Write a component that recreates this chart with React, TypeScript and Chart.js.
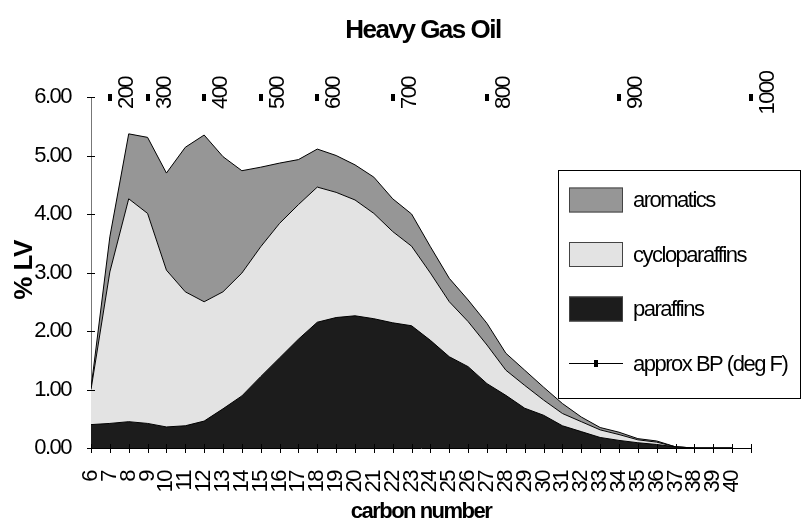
import React, { useEffect, useRef } from 'react';
import { Chart, registerables } from 'chart.js';

Chart.register(...registerables);

// ---- data ----
const carbonNumbers = [6, 7, 8, 9, 10, 11, 12, 13, 14, 15, 16, 17, 18, 19, 20, 21, 22, 23, 24, 25, 26, 27, 28, 29, 30, 31, 32, 33, 34, 35, 36, 37, 38, 39, 40];
const paraffins = [0.4, 0.42, 0.45, 0.42, 0.36, 0.38, 0.46, 0.67, 0.89, 1.22, 1.54, 1.86, 2.15, 2.23, 2.26, 2.21, 2.14, 2.09, 1.84, 1.56, 1.39, 1.1, 0.9, 0.68, 0.56, 0.38, 0.28, 0.18, 0.13, 0.09, 0.06, 0.02, 0, 0, 0];
const cycloparaffins = [0.6, 2.59, 3.81, 3.59, 2.68, 2.29, 2.04, 2.0, 2.1, 2.22, 2.3, 2.3, 2.31, 2.14, 1.98, 1.8, 1.56, 1.36, 1.15, 0.94, 0.77, 0.66, 0.43, 0.39, 0.26, 0.21, 0.17, 0.13, 0.1, 0.05, 0.04, 0, 0, 0, 0];
const aromatics = [0.02, 0.6, 1.11, 1.3, 1.66, 2.47, 2.85, 2.31, 1.75, 1.36, 1.03, 0.77, 0.65, 0.63, 0.6, 0.62, 0.56, 0.55, 0.45, 0.4, 0.37, 0.37, 0.29, 0.26, 0.22, 0.17, 0.08, 0.04, 0.04, 0.02, 0.02, 0, 0, 0, 0];
const bpCarbon = [7, 9, 12, 15, 18, 22, 27, 34, 41];
const bpLabels = ['200', '300', '400', '500', '600', '700', '800', '900', '1000'];
const bpLevel = 6;
const xMin = 6;
const xMax = 41;
const yMin = 0;
const yMax = 6;

const FONT = '"Liberation Sans", Arial, sans-serif';
const COLOR_AROM = '#969696';
const COLOR_CYCLO = '#e3e3e3';
const COLOR_PARA = '#1c1c1c';

const SPACING = '-1.5px';

function makeMarker(): HTMLCanvasElement {
  const c = document.createElement('canvas');
  c.width = 4;
  c.height = 7;
  const g = c.getContext('2d');
  if (g) {
    g.fillStyle = '#000';
    g.fillRect(0, 0, 4, 7);
  }
  return c;
}

const decorPlugin = {
  id: 'decor',
  beforeLayout(chart: any) {
    chart.ctx.letterSpacing = SPACING;
  },
  beforeDraw(chart: any) {
    const ctx = chart.ctx;
    ctx.letterSpacing = SPACING;
    ctx.save();
    ctx.fillStyle = '#fff';
    ctx.fillRect(0, 0, chart.width, chart.height);
    ctx.restore();
  },
  afterDatasetsDraw(chart: any) {
    const ctx = chart.ctx;
    const xs = chart.scales.x;
    const ys = chart.scales.y;
    ctx.save();
    ctx.strokeStyle = '#000';
    ctx.lineWidth = 1;
    ctx.beginPath();
    xs.ticks.forEach((t: any) => {
      const px = Math.round(xs.getPixelForValue(t.value)) + 0.5;
      ctx.moveTo(px, ys.bottom - 4);
      ctx.lineTo(px, ys.bottom + 5);
    });
    ys.ticks.forEach((t: any) => {
      const py = Math.round(ys.getPixelForValue(t.value)) + 0.5;
      ctx.moveTo(xs.left - 4, py);
      ctx.lineTo(xs.left + 4, py);
    });
    ctx.stroke();

    // BP data labels
    const meta = chart.getDatasetMeta(3);
    ctx.fillStyle = '#000';
    ctx.font = `22px ${FONT}`;
    ctx.letterSpacing = SPACING;
    ctx.textAlign = 'center';
    ctx.textBaseline = 'middle';
    meta.data.forEach((pt: any, i: number) => {
      ctx.save();
      ctx.translate(pt.x + 17, pt.y - 4);
      ctx.rotate(-Math.PI / 2);
      ctx.fillText(bpLabels[i], 0, 0);
      ctx.restore();
    });
    ctx.restore();
  },
  afterDraw(chart: any) {
    const ctx = chart.ctx;
    const area = chart.chartArea;
    ctx.save();
    ctx.fillStyle = '#000';
    ctx.letterSpacing = SPACING;
    ctx.textAlign = 'center';
    ctx.textBaseline = 'middle';
    // title
    ctx.font = `bold 26px ${FONT}`;
    ctx.fillText('Heavy Gas Oil', 423, 31);
    // x title
    ctx.font = `bold 22px ${FONT}`;
    ctx.fillText('carbon number', (area.left + area.right) / 2, 512);
    // y title
    ctx.save();
    ctx.translate(25, 270);
    ctx.rotate(-Math.PI / 2);
    ctx.letterSpacing = '-0.5px';
    ctx.font = `bold 26px ${FONT}`;
    ctx.fillText('% LV', 0, 0);
    ctx.restore();

    // legend
    ctx.strokeStyle = '#000';
    ctx.lineWidth = 1;
    ctx.strokeRect(558.5, 170.5, 242, 228);
    const items = [
      { label: 'aromatics', color: COLOR_AROM, y: 200 },
      { label: 'cycloparaffins', color: COLOR_CYCLO, y: 254.5 },
      { label: 'paraffins', color: COLOR_PARA, y: 309 },
    ];
    ctx.font = `22px ${FONT}`;
    ctx.textAlign = 'left';
    items.forEach((it) => {
      ctx.fillStyle = it.color;
      ctx.fillRect(569, it.y - 12.5, 54, 25);
      ctx.strokeStyle = '#444';
      ctx.strokeRect(569.5, it.y - 12, 53, 24);
      ctx.fillStyle = '#000';
      ctx.fillText(it.label, 633, it.y + 1);
    });
    const by = 363.5;
    ctx.strokeStyle = '#000';
    ctx.beginPath();
    ctx.moveTo(569, by);
    ctx.lineTo(623, by);
    ctx.stroke();
    ctx.fillRect(594, by - 3.5, 4, 7);
    ctx.fillText('approx BP (deg F)', 633, by + 1);
    ctx.restore();
  },
};

export default function App() {
  const ref = useRef<HTMLCanvasElement | null>(null);

  useEffect(() => {
    if (!ref.current) return;
    const toPts = (arr: number[]) => carbonNumbers.map((c, i) => ({ x: c, y: arr[i] }));
    const chart = new Chart(ref.current, {
      type: 'line',
      data: {
        datasets: [
          {
            label: 'paraffins',
            data: toPts(paraffins),
            backgroundColor: COLOR_PARA,
            borderColor: '#000',
            borderWidth: 1,
            fill: 'origin',
            pointRadius: 0,
            tension: 0,
          },
          {
            label: 'cycloparaffins',
            data: toPts(cycloparaffins),
            backgroundColor: COLOR_CYCLO,
            borderColor: '#000',
            borderWidth: 1,
            fill: '-1',
            pointRadius: 0,
            tension: 0,
          },
          {
            label: 'aromatics',
            data: toPts(aromatics),
            backgroundColor: COLOR_AROM,
            borderColor: '#000',
            borderWidth: 1,
            fill: '-1',
            pointRadius: 0,
            tension: 0,
          },
          {
            label: 'approx BP (deg F)',
            data: bpCarbon.map((c) => ({ x: c, y: bpLevel })),
            stack: 'bp',
            showLine: false,
            pointStyle: makeMarker() as any,
            pointRadius: 4,
            borderColor: '#000',
            backgroundColor: '#000',
            clip: false as any,
          } as any,
        ],
      },
      options: {
        animation: false,
        responsive: false,
        devicePixelRatio: 1,
        layout: { padding: { top: 97, right: 57, left: 0, bottom: 0 } },
        plugins: {
          legend: { display: false },
          title: { display: false },
          tooltip: { enabled: false },
        },
        scales: {
          x: {
            type: 'linear',
            min: xMin,
            max: xMax,
            grid: { display: false },
            border: { display: true, color: '#000', width: 1 },
            ticks: {
              stepSize: 1,
              autoSkip: false,
              minRotation: 90,
              maxRotation: 90,
              padding: 15,
              color: '#000',
              font: { family: FONT, size: 22 },
              callback: (v: any) => (Number(v) <= 40 ? String(v) : ''),
            },
            afterFit: (s: any) => {
              s.height = 77;
            },
          },
          y: {
            type: 'linear',
            stacked: true,
            min: yMin,
            max: yMax,
            grid: { display: false },
            border: { display: true, color: '#777', width: 1 },
            ticks: {
              stepSize: 1,
              padding: 12,
              color: '#000',
              font: { family: FONT, size: 22 },
              callback: (v: any) => Number(v).toFixed(2),
            },
            afterFit: (s: any) => {
              s.width = 91;
            },
          },
        },
      },
      plugins: [decorPlugin],
    } as any);
    return () => chart.destroy();
  }, []);

  return (
    <div style={{ position: 'fixed', left: 0, top: 0, width: 808, height: 525, background: '#fff' }}>
      <canvas ref={ref} width={808} height={525} style={{ display: 'block', width: 808, height: 525 }} />
    </div>
  );
}
